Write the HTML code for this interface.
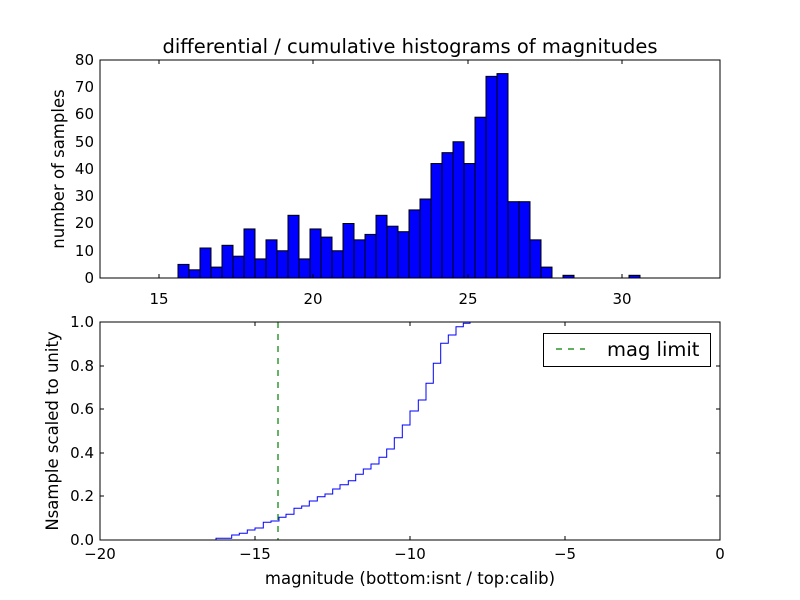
<!DOCTYPE html>
<html><head><meta charset="utf-8"><style>body{margin:0;background:#fff}svg{display:block}text{font-family:"DejaVu Sans","Liberation Sans",sans-serif;fill:#000}</style></head>
<body>
<svg width="800" height="600" xmlns="http://www.w3.org/2000/svg">
<rect width="800" height="600" fill="#fff"/>
<text x="410" y="53" font-size="19.5" text-anchor="middle">differential / cumulative histograms of magnitudes</text>
<g fill="#0000ff" stroke="#000" stroke-width="1">
<rect x="178" y="264.4" width="11" height="13.6"/>
<rect x="189" y="269.8" width="11" height="8.2"/>
<rect x="200" y="248" width="11" height="30"/>
<rect x="211" y="267.1" width="11" height="10.9"/>
<rect x="222" y="245.3" width="11" height="32.7"/>
<rect x="233" y="256.2" width="11" height="21.8"/>
<rect x="244" y="228.95" width="11" height="49.05"/>
<rect x="255" y="258.9" width="11" height="19.1"/>
<rect x="266" y="239.85" width="11" height="38.15"/>
<rect x="277" y="250.75" width="11" height="27.25"/>
<rect x="288" y="215.3" width="11" height="62.7"/>
<rect x="299" y="258.9" width="11" height="19.1"/>
<rect x="310" y="228.95" width="11" height="49.05"/>
<rect x="321" y="237.1" width="11" height="40.9"/>
<rect x="332" y="250.75" width="11" height="27.25"/>
<rect x="343" y="223.5" width="11" height="54.5"/>
<rect x="354" y="239.85" width="11" height="38.15"/>
<rect x="365" y="234.4" width="11" height="43.6"/>
<rect x="376" y="215.3" width="11" height="62.7"/>
<rect x="387" y="226.2" width="11" height="51.8"/>
<rect x="398" y="231.7" width="11" height="46.3"/>
<rect x="409" y="209.9" width="11" height="68.1"/>
<rect x="420" y="199" width="11" height="79"/>
<rect x="431" y="163.55" width="11" height="114.45"/>
<rect x="442" y="152.65" width="11" height="125.35"/>
<rect x="453" y="141.75" width="11" height="136.25"/>
<rect x="464" y="163.55" width="11" height="114.45"/>
<rect x="475" y="117.2" width="11" height="160.8"/>
<rect x="486" y="76.35" width="11" height="201.65"/>
<rect x="497" y="73.6" width="11" height="204.4"/>
<rect x="508" y="201.7" width="11" height="76.3"/>
<rect x="519" y="201.7" width="11" height="76.3"/>
<rect x="530" y="239.85" width="11" height="38.15"/>
<rect x="541" y="267.1" width="11" height="10.9"/>
<rect x="563" y="275.3" width="11" height="2.7"/>
<rect x="629" y="275.3" width="11" height="2.7"/>
</g>
<rect x="100" y="60" width="620" height="218" fill="none" stroke="#000" stroke-width="1"/>
<g stroke="#000" stroke-width="1">
<line x1="159" y1="60" x2="159" y2="64"/><line x1="313" y1="60" x2="313" y2="64"/><line x1="468" y1="60" x2="468" y2="64"/><line x1="622" y1="60" x2="622" y2="64"/>
<line x1="159" y1="278" x2="159" y2="274"/><line x1="313" y1="278" x2="313" y2="274"/><line x1="468" y1="278" x2="468" y2="274"/><line x1="622" y1="278" x2="622" y2="274"/>
</g>
<g font-size="15" text-anchor="end">
<text x="94" y="283">0</text><text x="94" y="256">10</text><text x="94" y="228">20</text><text x="94" y="201">30</text><text x="94" y="174">40</text><text x="94" y="147">50</text><text x="94" y="119">60</text><text x="94" y="92">70</text><text x="94" y="65">80</text>
</g>
<g font-size="15" text-anchor="middle">
<text x="159" y="304">15</text><text x="313" y="304">20</text><text x="468" y="304">25</text><text x="622" y="304">30</text>
</g>
<text transform="translate(64,169) rotate(-90)" font-size="16.5" text-anchor="middle">number of samples</text>

<path d="M100,540 H216 V538.3 H231.7 V535 H239.3 V533.3 H247.3 V530 H255 V528 H263.3 V522.3 H271 V521 H279 V517.3 H286 V514.3 H294 V508.3 H301.7 V506 H309.3 V501 H317.3 V496.7 H325 V494 H332.7 V489 H340 V484.7 H348.3 V480.7 H355.7 V474.3 H363.3 V469 H371 V464 H379 V457.3 H386.7 V449 H394.3 V437.7 H402.3 V425 H410 V411 H418.3 V400 H426 V383.3 H433.3 V363.3 H440.7 V343.3 H448.3 V335 H456 V326.7 H463.3 V323.3 H470 V322 H720" fill="none" stroke="#0000ff" stroke-width="1"/>
<line x1="278" y1="322" x2="278" y2="540" stroke="#008000" stroke-width="1.2" stroke-dasharray="6,6"/>
<rect x="100" y="322" width="620" height="218" fill="none" stroke="#000" stroke-width="1"/>
<g stroke="#000" stroke-width="1">
<line x1="255" y1="540" x2="255" y2="536"/><line x1="410" y1="540" x2="410" y2="536"/><line x1="565" y1="540" x2="565" y2="536"/>
<line x1="255" y1="322" x2="255" y2="326"/><line x1="410" y1="322" x2="410" y2="326"/><line x1="565" y1="322" x2="565" y2="326"/>
<line x1="100" y1="496" x2="104" y2="496"/><line x1="100" y1="453" x2="104" y2="453"/><line x1="100" y1="409" x2="104" y2="409"/><line x1="100" y1="366" x2="104" y2="366"/>
<line x1="720" y1="496" x2="716" y2="496"/><line x1="720" y1="453" x2="716" y2="453"/><line x1="720" y1="409" x2="716" y2="409"/><line x1="720" y1="366" x2="716" y2="366"/>
</g>
<g font-size="15" text-anchor="end">
<text x="94" y="545">0.0</text><text x="94" y="501">0.2</text><text x="94" y="458">0.4</text><text x="94" y="414">0.6</text><text x="94" y="371">0.8</text><text x="94" y="327">1.0</text>
</g>
<g font-size="15" text-anchor="middle">
<text x="100" y="559">−20</text><text x="255" y="559">−15</text><text x="410" y="559">−10</text><text x="565" y="559">−5</text><text x="720" y="559">0</text>
</g>
<text x="410" y="584" font-size="16.5" text-anchor="middle">magnitude (bottom:isnt / top:calib)</text>
<text transform="translate(58,431) rotate(-90)" font-size="16.5" text-anchor="middle">Nsample scaled to unity</text>
<rect x="543.5" y="333.5" width="167" height="33" fill="#fff" stroke="#000" stroke-width="1"/>
<line x1="556" y1="349" x2="585" y2="349" stroke="#008000" stroke-width="1.2" stroke-dasharray="6,6"/>
<text x="607" y="356" font-size="19.5">mag limit</text>
</svg>
</body></html>
